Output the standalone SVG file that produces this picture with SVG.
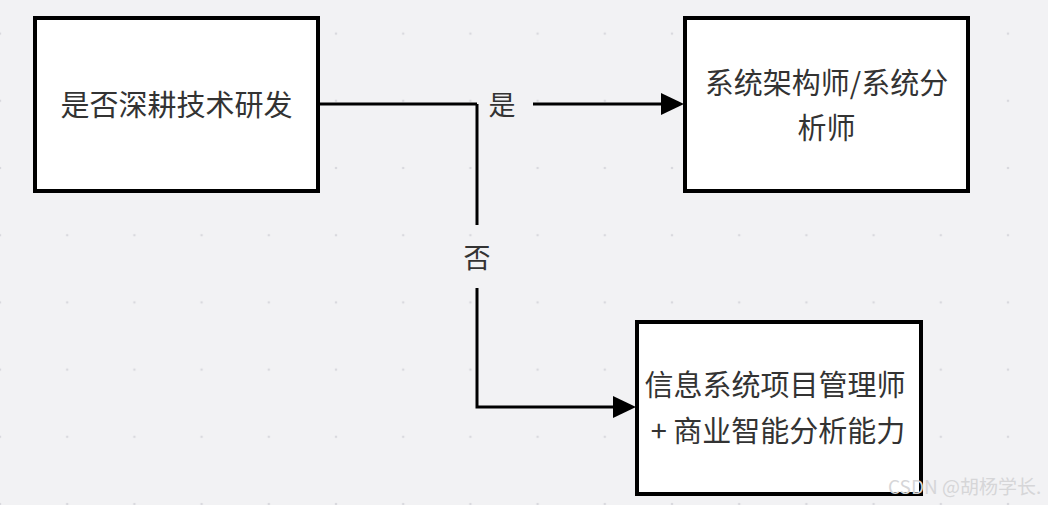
<svg xmlns="http://www.w3.org/2000/svg" width="1048" height="505" viewBox="0 0 1048 505">
  <defs>
    <pattern id="grid" x="0" y="33.6" width="67.2" height="67.2" patternUnits="userSpaceOnUse">
      <circle cx="0" cy="0" r="1.3" fill="#d9d9de"/>
      <circle cx="67.2" cy="0" r="1.3" fill="#d9d9de"/>
      <circle cx="0" cy="67.2" r="1.3" fill="#d9d9de"/>
      <circle cx="67.2" cy="67.2" r="1.3" fill="#d9d9de"/>
    </pattern>
    <marker id="arrow" markerUnits="userSpaceOnUse" markerWidth="24" markerHeight="24" refX="0" refY="12" orient="auto" viewBox="0 0 24 24">
      <path d="M0,1 L23,12 L0,23 z" fill="#000"/>
    </marker>
    <style>
      .box { fill: #ffffff; stroke: #000000; stroke-width: 4; }
      .txt { font-family: "Noto Sans CJK SC", "Noto Sans", sans-serif; font-size: 29px; fill: #333333; text-anchor: middle; }
      .lbl { font-family: "Noto Sans CJK SC", "Noto Sans", sans-serif; font-size: 27px; fill: #333333; text-anchor: middle; }
      .edge { fill: none; stroke: #000000; stroke-width: 3; }
      .wm { font-family: "Noto Sans CJK SC", "Noto Sans", sans-serif; font-size: 19px; fill: #d6d6d8; }
    </style>
  </defs>
  <rect x="0" y="0" width="1048" height="505" fill="#f2f2f4"/>
  <rect x="0" y="0" width="1048" height="505" fill="url(#grid)"/>

  <g id="node-decision">
    <rect class="box" x="35" y="18" width="283" height="173"/>
    <text class="txt" x="176.5" y="116">是否深耕技术研发</text>
  </g>

  <g id="node-architect">
    <rect class="box" x="685" y="18" width="283" height="173"/>
    <text class="txt" x="826.5" y="94">系统架构师/系统分</text>
    <text class="txt" x="826.5" y="139">析师</text>
  </g>

  <g id="node-pm">
    <rect class="box" x="637" y="322" width="284" height="172"/>
    <text class="txt" x="775" y="396">信息系统项目管理师</text>
    <text class="txt" x="778" y="442">+ 商业智能分析能力</text>
  </g>

  <g id="connectors">
    <path class="edge" d="M318,104 H477"/>
    <path class="edge" d="M533,104 H661" marker-end="url(#arrow)"/>
    <text class="lbl" x="502" y="115">是</text>
    <path class="edge" d="M477,104 V225"/>
    <path class="edge" d="M477,288 V407 H613" marker-end="url(#arrow)"/>
    <text class="lbl" x="477" y="268">否</text>
  </g>

  <text class="wm" x="888" y="494">CSDN @胡杨学长.</text>
</svg>
